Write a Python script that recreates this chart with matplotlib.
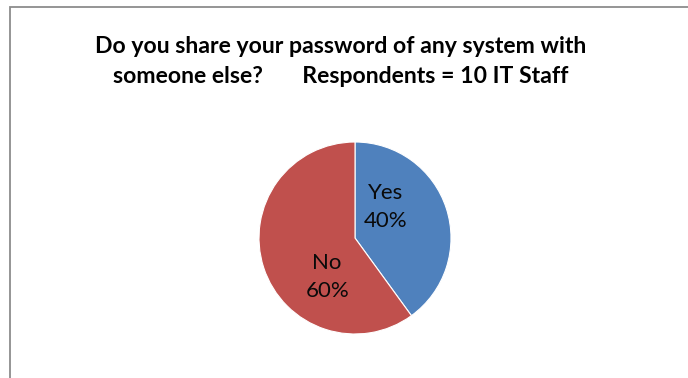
import matplotlib.pyplot as plt
from matplotlib.patches import Rectangle

answers = ["Yes", "No"]
shares = [40, 60]
colours = ["#4F81BD", "#C0504D"]
title_lines = ["Do you share your password of any system with",
               "someone else?       Respondents = 10 IT Staff"]

# where Excel put the data labels (relative to pie radius)
label_spots = [(0.32, 0.32), (-0.29, -0.41)]

W, H = 688, 378
fig = plt.figure(figsize=(W / 100, H / 100), dpi=100)
plt.rcParams['font.family'] = ['Lato', 'DejaVu Sans']

# chart area border, runs off the right and bottom edges
fig.patches.append(Rectangle((10 / W, -0.1), 1.2, 1 - 7 / H + 0.1,
                             transform=fig.transFigure, fill=False,
                             edgecolor="#8c8c8c", linewidth=1.3))

fig.text(341 / W, 1 - 53 / H, title_lines[0], ha="center", va="baseline",
         fontsize=16.6, fontweight="bold")
fig.text(341 / W, 1 - 83 / H, title_lines[1], ha="center", va="baseline",
         fontsize=16.6, fontweight="bold")

cx, cy, r = 355, 238, 96
ax = fig.add_axes([(cx - r) / W, (H - cy - r) / H, 2 * r / W, 2 * r / H])
ax.pie(shares, colors=colours, startangle=90, counterclock=False,
       wedgeprops=dict(edgecolor="white", linewidth=0.8))
ax.set_xlim(-1, 1)
ax.set_ylim(-1, 1)
ax.set_aspect("equal")

for name, val, (lx, ly) in zip(answers, shares, label_spots):
    ax.text(lx, ly, f"{name}\n{val}%", ha="center", va="center",
            fontsize=16, linespacing=1.5, color="#0a0a0a")

fig.savefig("out.png", dpi=100)
